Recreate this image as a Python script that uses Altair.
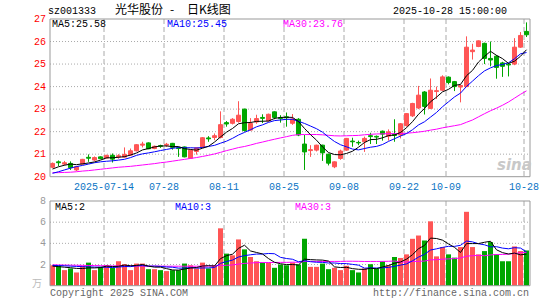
import altair as alt
import pandas as pd

# ---------------- data ----------------
jul = [1, 2, 3, 4, 7, 8, 9, 10, 11, 14, 15, 16, 17, 18, 21, 22, 23, 24, 25, 28, 29, 30, 31]
aug = [1, 4, 5, 6, 7, 8, 11, 12, 13, 14, 15, 18, 19, 20, 21, 22, 25, 26, 27, 28, 29]
sep = [1, 2, 3, 4, 5, 8, 9, 10, 11, 12, 15, 16, 17, 18, 19, 22, 23, 24, 25, 26, 29, 30]
octo = [9, 10, 13, 14, 15, 16, 17, 20, 21, 22, 23, 24, 27, 28]
dates = ([f"2025-07-{d:02d}" for d in jul] + [f"2025-08-{d:02d}" for d in aug]
         + [f"2025-09-{d:02d}" for d in sep] + [f"2025-10-{d:02d}" for d in octo])

opens = [20.42, 20.66, 20.56, 20.59, 20.30, 20.56, 20.86, 20.74, 20.88, 20.83,
         20.95, 20.88, 20.87, 20.96, 21.15, 21.40, 21.50, 21.25, 21.38, 21.40,
         21.48, 21.28, 21.32, 20.82, 21.12, 21.30, 21.72, 21.74, 21.74, 22.40,
         22.37, 22.45, 23.00, 22.07, 22.43, 22.63, 22.48, 22.88, 22.62, 22.66,
         22.37, 22.55, 21.45, 21.16, 21.18, 21.40, 21.00, 20.44, 20.81, 21.18,
         21.58, 21.52, 21.55, 21.82, 21.79, 22.02, 21.80, 21.88, 21.85, 22.27,
         22.70, 23.05, 23.76, 23.03, 23.78, 23.84, 24.42, 24.22, 23.98, 24.00,
         25.55, 25.78, 25.92, 25.25, 25.35, 25.05, 25.00, 25.00, 25.75, 26.45]
highs = [20.63, 20.72, 20.70, 20.68, 20.47, 20.79, 20.99, 20.90, 20.90, 20.97,
         21.03, 21.00, 21.30, 21.25, 21.44, 21.55, 21.52, 21.38, 21.42, 21.50,
         21.50, 21.33, 21.34, 21.20, 21.30, 21.76, 21.80, 21.92, 22.90, 22.47,
         22.60, 23.35, 23.02, 22.60, 22.75, 22.77, 22.80, 22.90, 22.73, 22.85,
         22.78, 22.60, 21.85, 21.40, 21.42, 21.42, 21.02, 20.68, 21.20, 21.72,
         21.73, 21.60, 21.78, 21.95, 21.83, 22.05, 22.10, 22.55, 22.38, 22.82,
         23.28, 24.03, 23.80, 24.36, 24.00, 24.50, 24.45, 24.25, 24.08, 26.23,
         25.90, 26.05, 25.95, 26.00, 25.40, 25.10, 25.05, 26.15, 26.42, 26.85]
lows = [20.38, 20.47, 20.50, 20.30, 20.25, 20.54, 20.66, 20.70, 20.78, 20.80,
        20.63, 20.80, 20.85, 20.94, 21.12, 21.30, 21.22, 21.22, 21.28, 21.32,
        21.20, 20.88, 20.86, 20.80, 20.98, 21.28, 21.55, 21.62, 21.70, 22.22,
        22.32, 22.40, 22.00, 22.05, 22.35, 22.38, 22.45, 22.55, 22.40, 22.22,
        22.30, 21.80, 20.30, 20.88, 21.12, 20.70, 20.50, 20.38, 20.75, 21.15,
        21.33, 21.40, 21.10, 21.45, 21.45, 21.60, 21.60, 21.55, 21.70, 22.22,
        22.65, 23.00, 22.76, 23.00, 23.45, 23.82, 24.10, 23.80, 23.30, 23.98,
        25.20, 25.75, 25.00, 24.90, 24.35, 24.43, 24.45, 24.95, 25.72, 26.20]
closes = [20.59, 20.62, 20.62, 20.40, 20.44, 20.77, 20.82, 20.85, 20.80, 20.95,
          20.78, 20.93, 20.99, 21.15, 21.42, 21.45, 21.24, 21.35, 21.35, 21.44,
          21.30, 21.25, 20.88, 21.18, 21.28, 21.73, 21.68, 21.82, 22.31, 22.34,
          22.55, 22.73, 22.05, 22.36, 22.58, 22.59, 22.77, 22.63, 22.58, 22.62,
          22.56, 21.85, 21.10, 21.20, 21.40, 21.06, 20.60, 20.66, 21.14, 21.70,
          21.55, 21.50, 21.70, 21.78, 21.76, 21.89, 21.99, 21.83, 22.35, 22.80,
          23.25, 23.62, 23.12, 23.84, 23.82, 24.43, 24.18, 24.00, 24.05, 25.75,
          25.62, 26.03, 25.25, 25.18, 24.85, 24.90, 24.96, 25.75, 26.27, 26.30]
volumes = [1.93, 1.88, 1.47, 1.63, 1.25, 1.88, 2.18, 1.47, 1.78, 1.93,
           1.69, 2.31, 2.03, 1.47, 2.09, 2.09, 1.56, 1.56, 1.47, 1.38,
           1.47, 1.47, 2.09, 1.93, 1.63, 2.18, 1.63, 1.93, 5.42, 3.03,
           2.87, 4.37, 3.43, 2.71, 2.31, 2.18, 2.18, 1.69, 2.00, 1.93,
           2.18, 2.00, 4.43, 1.78, 1.78, 2.09, 1.56, 1.69, 1.47, 1.88,
           1.47, 1.25, 1.63, 2.03, 1.63, 2.31, 1.93, 2.71, 2.62, 2.96,
           4.43, 4.74, 4.27, 6.08, 2.77, 3.65, 2.96, 2.65, 3.65, 6.98,
           3.65, 2.96, 3.27, 4.12, 2.96, 2.31, 2.31, 3.71, 3.27, 3.33]

# moving-average values at the start of the window (read off the picture,
# they depend on days before the visible range)
ma5_head = [20.34, 20.44, 20.51, 20.56]
ma10_head = [20.15, 20.22, 20.30, 20.38, 20.45, 20.50, 20.56, 20.62, 20.66]
ma30_head = [20.18, 20.18, 20.19, 20.20, 20.22, 20.25, 20.27, 20.30, 20.33, 20.36,
             20.39, 20.42, 20.44, 20.46, 20.49, 20.52, 20.55, 20.58, 20.62, 20.65,
             20.69, 20.73, 20.77, 20.81, 20.85, 20.90, 20.95, 21.01, 21.08]
vma5_head = [1.85, 1.80, 1.75, 1.70]
vma10_head = [1.92, 1.90, 1.88, 1.85, 1.82, 1.80, 1.78, 1.76, 1.75]
vma30_head = [1.97, 1.96, 1.95, 1.94, 1.93, 1.92, 1.91, 1.90, 1.89, 1.88,
              1.87, 1.87, 1.86, 1.86, 1.86, 1.85, 1.85, 1.85, 1.85, 1.84,
              1.84, 1.84, 1.84, 1.84, 1.84, 1.85, 1.85, 1.86, 1.92]

price_ticks = [20, 21, 22, 23, 24, 25, 26, 27]
price_grid = [21, 22, 23, 24, 25, 26]
vol_ticks = [2, 4, 6, 8]
vol_grid = [2, 4, 6]
label_dates = ["2025-07-14", "2025-07-28", "2025-08-11", "2025-08-25",
               "2025-09-08", "2025-09-22", "2025-10-09", "2025-10-28"]
label_texts = ["2025-07-14", "07-28", "08-11", "08-25", "09-08", "09-22", "10-09", "10-28"]

legend_price = ["MA5:25.58", "MA10:25.45", "MA30:23.76"]
legend_vol = ["MA5:2", "MA10:3", "MA30:3"]
title_parts = ["光华股份", "-", "日K线图"]

# ---------------- styling ----------------
RED = "#ff5555"
GREEN = "#00a600"
MONO = "Liberation Mono"
CJK = "Noto Sans CJK SC"
GRID = "#aaaaaa"
BORDER = "#999999"
W, H = 480, 267
PY_TOP, PY_BOT = 0, 157.7
VY_TOP, VY_BOT = 182, 266.7


def moving(values, n, head):
    s = pd.Series(values).rolling(n).mean().round(3).tolist()
    return list(head) + s[len(head):]


n = len(dates)
df = pd.DataFrame({
    "i": list(range(n)),
    "date": dates,
    "open": opens, "high": highs, "low": lows, "close": closes, "vol": volumes,
})
df["xc"] = df["i"] + 0.417
df["xl"] = df["i"] + 0.083
df["xr"] = df["i"] + 0.75
df["vl"] = df["i"] + 0.0
df["vr"] = df["i"] + 0.833
df["ma5"] = moving(closes, 5, ma5_head)
df["ma10"] = moving(closes, 10, ma10_head)
df["ma30"] = moving(closes, 30, ma30_head)
df["vma5"] = moving(volumes, 5, vma5_head)
df["vma10"] = moving(volumes, 10, vma10_head)
df["vma30"] = moving(volumes, 30, vma30_head)

grid_df = pd.DataFrame({"gx": [dates.index(d) for d in label_dates], "lab": label_texts})

XS = alt.Scale(domain=[0, n], nice=False, zero=False)
PS = alt.Scale(domain=[20, 27], range=[PY_BOT, PY_TOP], nice=False, zero=False)
VS = alt.Scale(domain=[0, 8], range=[VY_BOT, VY_TOP], nice=False, zero=False)

updown = alt.condition("datum.close >= datum.open", alt.value(RED), alt.value(GREEN))
one = pd.DataFrame({"k": [0]})

# ---------------- price panel ----------------
p_hgrid = alt.Chart(pd.DataFrame({"p": price_grid})).mark_rule(
    color=GRID, strokeDash=[1, 2], strokeWidth=1).encode(
    x=alt.value(0), x2=alt.value(W), y=alt.Y("p:Q", scale=PS, axis=None))
p_ticklab = alt.Chart(pd.DataFrame({"p": price_ticks})).mark_text(
    align="right", baseline="middle", color="#ff0000", font=MONO, fontSize=10).encode(
    x=alt.value(-4), y=alt.Y("p:Q", scale=PS, axis=None), text="p:Q")
wicks = alt.Chart(df).mark_rule(strokeWidth=1).encode(
    x=alt.X("xc:Q", scale=XS, axis=None),
    y=alt.Y("low:Q", scale=PS, axis=None), y2="high:Q", color=updown)
bodies = alt.Chart(df).mark_rect(strokeWidth=1).encode(
    x=alt.X("xl:Q", scale=XS, axis=None), x2="xr:Q",
    y=alt.Y("open:Q", scale=PS, axis=None), y2="close:Q",
    color=updown, stroke=updown)


def pline(field, color, scale):
    return alt.Chart(df).mark_line(strokeWidth=1, color=color).encode(
        x=alt.X("xc:Q", scale=XS, axis=None),
        y=alt.Y(f"{field}:Q", scale=scale, axis=None))


price_layer = alt.layer(
    p_hgrid, p_ticklab, wicks, bodies,
    pline("ma30", "#ff00ff", PS), pline("ma10", "#0000ff", PS), pline("ma5", "#000000", PS))

# ---------------- volume panel ----------------
v_hgrid = alt.Chart(pd.DataFrame({"v": vol_grid})).mark_rule(
    color=GRID, strokeDash=[1, 2], strokeWidth=1).encode(
    x=alt.value(0), x2=alt.value(W), y=alt.Y("v:Q", scale=VS, axis=None))
v_ticklab = alt.Chart(pd.DataFrame({"v": vol_ticks})).mark_text(
    align="right", baseline="middle", color="#999999", font=MONO, fontSize=10).encode(
    x=alt.value(-4), y=alt.Y("v:Q", scale=VS, axis=None), text="v:Q")
vbars = alt.Chart(df).mark_rect().encode(
    x=alt.X("vl:Q", scale=XS, axis=None), x2="vr:Q",
    y=alt.Y("vol:Q", scale=VS, axis=None), y2=alt.datum(0),
    color=updown)
vol_layer = alt.layer(
    v_hgrid, v_ticklab, vbars,
    pline("vma30", "#ff00ff", VS), pline("vma10", "#0000ff", VS), pline("vma5", "#000000", VS))

# ---------------- frame, date grid and texts ----------------
vgrid_p = alt.Chart(grid_df).mark_rule(color=GRID, strokeDash=[5, 3]).encode(
    x=alt.X("gx:Q", scale=XS, axis=None), y=alt.value(PY_TOP), y2=alt.value(PY_BOT))
vgrid_v = alt.Chart(grid_df).mark_rule(color=GRID, strokeDash=[5, 3]).encode(
    x=alt.X("gx:Q", scale=XS, axis=None), y=alt.value(VY_TOP), y2=alt.value(VY_BOT))
date_text = alt.Chart(grid_df).mark_text(
    align="center", baseline="alphabetic", color="#0a74c4", font=MONO, fontSize=10).encode(
    x=alt.X("gx:Q", scale=XS, axis=None), y=alt.value(170.5), text="lab:N")
box_p = alt.Chart(one).mark_rect(fillOpacity=0, stroke=BORDER, strokeWidth=1).encode(
    x=alt.value(0), x2=alt.value(W), y=alt.value(PY_TOP), y2=alt.value(PY_BOT))
box_v = alt.Chart(one).mark_rect(fillOpacity=0, stroke=BORDER, strokeWidth=1).encode(
    x=alt.value(0), x2=alt.value(W), y=alt.value(VY_TOP), y2=alt.value(VY_BOT))


def label(txt, x, y, color="#000000", align="left", size=10, font=MONO, **kw):
    return alt.Chart(one).mark_text(
        text=txt, align=align, baseline="alphabetic", color=color,
        fontSize=size, font=font, **kw).encode(x=alt.value(x), y=alt.value(y))


texts = [
    label("sz001333", -2, -5),
    label(title_parts[0], 65, -5, size=12, font=CJK),
    label(title_parts[1], 122, -5, align="center", size=12, font=CJK),
    label(title_parts[2], 137, -5, size=12, font=CJK),
    label("2025-10-28 15:00:00", 457, -5, align="right"),
    label(legend_price[0], 2, 8, "#000000"),
    label(legend_price[1], 117, 8, "#0000ff"),
    label(legend_price[2], 233, 8, "#ff00ff"),
    label(legend_vol[0], 5, 191, "#000000"),
    label(legend_vol[1], 125, 191, "#0000ff"),
    label(legend_vol[2], 245, 191, "#ff00ff"),
    label("万", -8, 268, "#bbbbbb", align="right", size=10, font=CJK),
    label("Copyright 2025 SINA.COM", 0, 277, "#666666"),
    label("http://finance.sina.com.cn", 479, 277, "#666666", align="right"),
    label("sina", 447, 151, "#c8c8c8", size=15, font="DejaVu Sans",
          fontWeight="bold", fontStyle="italic"),
]

chart = alt.layer(
    vgrid_p, vgrid_v, price_layer, vol_layer, box_p, box_v, date_text, *texts
).resolve_scale(y="independent").properties(
    width=W, height=H, autosize="none",
    padding={"left": 50, "top": 19, "right": 15, "bottom": 14},
    background="white",
).configure_view(stroke=None)

chart.save("out.html", embed_options={"renderer": "svg", "actions": False})
